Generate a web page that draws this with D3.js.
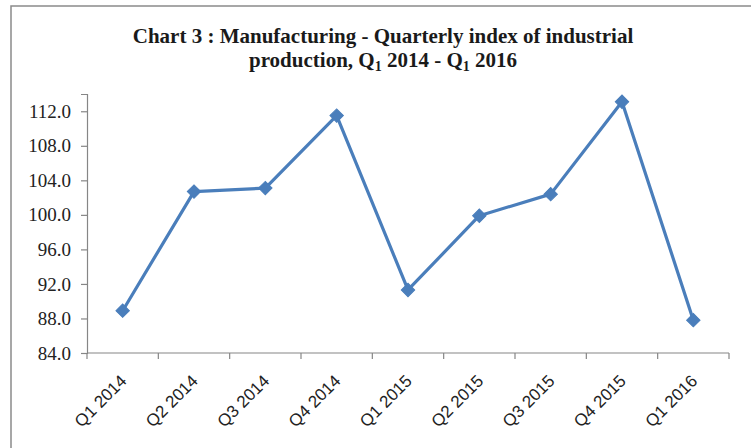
<!DOCTYPE html>
<html>
<head>
<meta charset="utf-8">
<script src="https://cdn.jsdelivr.net/npm/d3@7"></script>
<style>
  html, body { margin: 0; padding: 0; background: #fff; }
  svg { display: block; }
</style>
</head>
<body>
<svg id="chart" width="751" height="448"></svg>
<script>
// Quarterly index of industrial production, manufacturing
const quarters = ["Q1 2014", "Q2 2014", "Q3 2014", "Q4 2014", "Q1 2015", "Q2 2015", "Q3 2015", "Q4 2015", "Q1 2016"];
const indexValues = [88.9, 102.7, 103.1, 111.5, 91.3, 99.9, 102.4, 113.1, 87.8];
const yTicks = [84, 88, 92, 96, 100, 104, 108, 112];
const yDomain = [84, 114];

const svg = d3.select("#chart");
const W = 751, H = 448;
const margin = { left: 87, right: 22, top: 94, bottom: 95 };
const plotW = W - margin.left - margin.right;   // 642
const plotH = H - margin.top - margin.bottom;   // 259

// outer chart frame (extends past the right and bottom edges)
svg.append("rect")
  .attr("x", 11).attr("y", 6)
  .attr("width", W).attr("height", H)
  .attr("fill", "#fff")
  .attr("stroke", "#8a8a8a").attr("stroke-width", 1.5);

// title with subscripted quarter numbers
const title = svg.append("text")
  .attr("text-anchor", "middle")
  .attr("font-family", "'Liberation Serif', 'Times New Roman', serif")
  .attr("font-weight", "bold")
  .attr("font-size", 21)
  .attr("fill", "#1a1a1a");
title.append("tspan").attr("x", 383).attr("y", 43)
  .text("Chart 3 : Manufacturing - Quarterly index of industrial");
const line2 = title.append("tspan").attr("x", 383).attr("y", 67);
line2.append("tspan").text("production, Q");
line2.append("tspan").attr("font-size", 14).attr("dy", 4).text("1");
line2.append("tspan").attr("dy", -4).text(" 2014 - Q");
line2.append("tspan").attr("font-size", 14).attr("dy", 4).text("1");
line2.append("tspan").attr("dy", -4).text(" 2016");

const g = svg.append("g").attr("transform", `translate(${margin.left},${margin.top})`);

const x = d3.scaleBand().domain(quarters).range([0, plotW]).padding(0);
const y = d3.scaleLinear().domain(yDomain).range([plotH, 0]);

// y axis
const yAxis = g.append("g")
  .call(d3.axisLeft(y).tickValues(yTicks).tickFormat(d3.format(".1f")).tickSize(6).tickPadding(10));
yAxis.select(".domain").attr("stroke", "#868686").attr("stroke-width", 1.2);
yAxis.selectAll(".tick line").attr("stroke", "#868686").attr("stroke-width", 1.2);
yAxis.selectAll(".tick text")
  .attr("font-family", "'Liberation Serif', 'Times New Roman', serif")
  .attr("font-size", 19)
  .attr("fill", "#222");

// x axis with ticks on category boundaries
const xAxis = g.append("g").attr("transform", `translate(0,${plotH})`);
xAxis.append("line")
  .attr("x1", 0).attr("x2", plotW)
  .attr("stroke", "#868686").attr("stroke-width", 1.2);
const boundaries = quarters.map(q => x(q)).concat([x(quarters[quarters.length - 1]) + x.bandwidth()]);
xAxis.selectAll("line.tick").data(boundaries).enter().append("line")
  .attr("class", "tick")
  .attr("x1", d => d).attr("x2", d => d)
  .attr("y1", 0).attr("y2", 6)
  .attr("stroke", "#868686").attr("stroke-width", 1.2);
xAxis.selectAll("text").data(quarters).enter().append("text")
  .attr("transform", d => `translate(${x(d) + x.bandwidth() / 2 + 5},${29}) rotate(-45)`)
  .attr("text-anchor", "end")
  .attr("font-family", "'Liberation Sans', Arial, sans-serif")
  .attr("font-size", 17)
  .attr("fill", "#222")
  .text(d => d);

// series line and diamond markers
const cx = (d, i) => x(quarters[i]) + x.bandwidth() / 2;
const line = d3.line().x(cx).y(d => y(d));
g.append("path")
  .datum(indexValues)
  .attr("d", line)
  .attr("fill", "none")
  .attr("stroke", "#4a7ebb")
  .attr("stroke-width", 3.2)
  .attr("stroke-linejoin", "round");

g.selectAll("path.marker").data(indexValues).enter().append("path")
  .attr("class", "marker")
  .attr("transform", (d, i) => `translate(${cx(d, i)},${y(d)}) rotate(45)`)
  .attr("d", d3.symbol().type(d3.symbolSquare).size(90))
  .attr("fill", "#4a7ebb")
  .attr("stroke", "#4a7ebb")
  .attr("stroke-width", 1);
</script>
</body>
</html>
